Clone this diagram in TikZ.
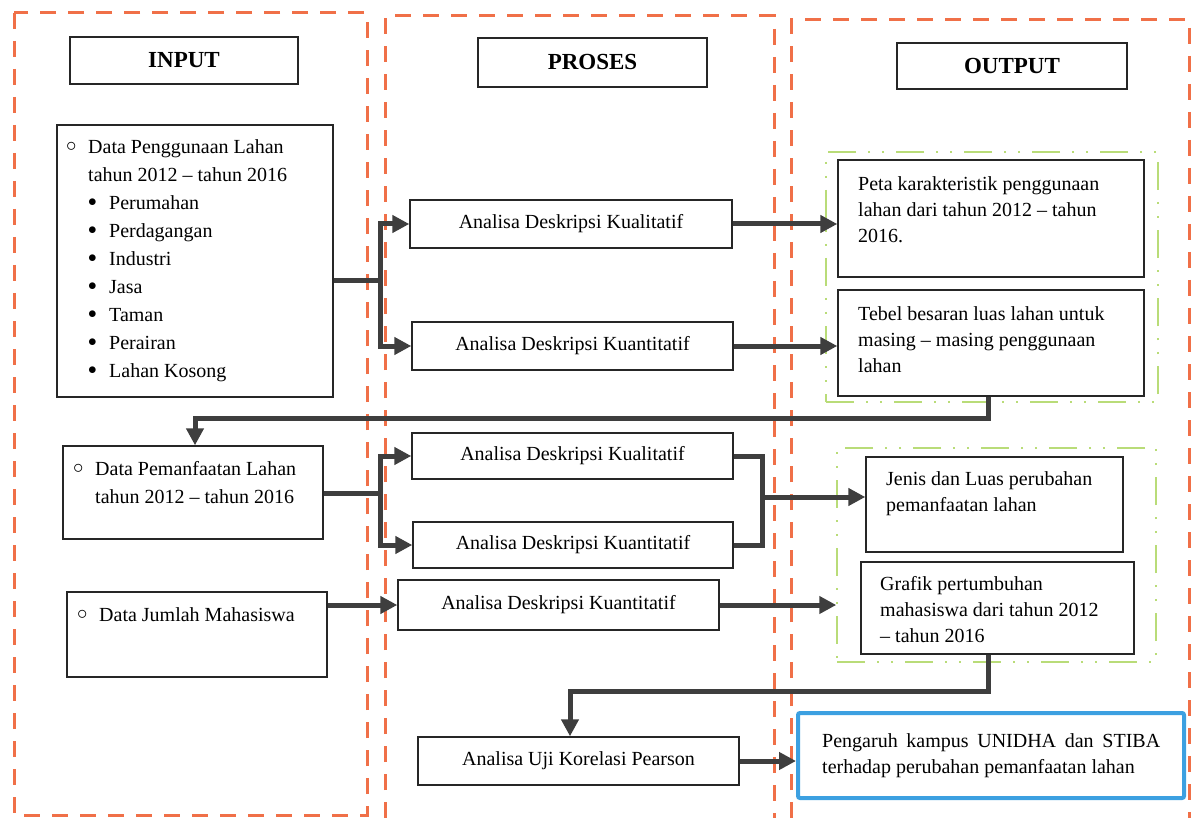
\documentclass[tikz,border=0pt]{standalone}
\usepackage{fontspec}
\setmainfont{Liberation Serif}
\usetikzlibrary{arrows.meta,calc}
\definecolor{frameorange}{RGB}{240,112,72}
\definecolor{framegreen}{RGB}{185,220,120}
\definecolor{outblue}{RGB}{60,160,225}
\definecolor{conngray}{RGB}{62,62,62}
\newcommand\mkbox[7]{\node[#1, minimum width={(#5-#3)*1pt}, minimum height={(#6-#4)*1pt}] (#2) at ({(#3+#5)/2},{(#4+#6)/2}) {#7};}
\newcommand\cbul{\makebox[22pt][l]{\raisebox{1.5pt}{\fontsize{20}{20}\selectfont$\circ$}}}
\newcommand\fbul{\makebox[21pt][l]{\raisebox{2.3pt}{\fontsize{16}{16}\selectfont$\bullet$}}}
\begin{document}
\begin{tikzpicture}[x=1pt,y=-1pt,
  box/.style={draw=black!85, line width=1.4pt, inner sep=0pt, font=\fontsize{20}{28}\selectfont},
  headbox/.style={box, font=\fontsize{23}{28}\selectfont\bfseries},
  bluebox/.style={draw=outblue, line width=4pt, rounded corners=2pt, inner sep=0pt},
  greenframe/.style={draw=framegreen, line width=1.5pt, inner sep=0pt, dash pattern=on 28pt off 12pt on 2pt off 12pt on 2pt off 12pt},
  orangeframe/.style={draw=frameorange, line width=3pt, dash pattern=on 16pt off 12pt},
  txtA/.style={inner sep=0pt, anchor=north west, align=left, font=\fontsize{20}{28}\selectfont},
  txtB/.style={inner sep=0pt, anchor=north west, align=left, font=\fontsize{20}{26}\selectfont},
  conn/.style={draw=conngray, line width=5pt},
  arr/.style={conn, -{Triangle[length=17pt,width=17pt]}}
]
\useasboundingbox (0,0) rectangle (1191,818);
\fill[white] (0,0) rectangle (1191,818);

% orange column frames
\draw[orangeframe] (14,13) rectangle (367,815);
\draw[orangeframe] (385,818) -- (385,16) -- (774,16) -- (774,818);
\draw[orangeframe] (791,818) -- (791,20) -- (1189,20) -- (1189,818);

% green groups
\mkbox{greenframe}{g1}{826}{152}{1158}{402}{}
\mkbox{greenframe}{g2}{837}{448}{1156}{662}{}

% headers
\mkbox{headbox}{hin}{70}{37}{298}{84}{INPUT}
\mkbox{headbox}{hpr}{478}{38}{707}{87}{PROSES}
\mkbox{headbox}{hout}{897}{43}{1127}{89}{OUTPUT}

% input boxes
\mkbox{box}{in1}{57}{125}{333}{397}{}
\mkbox{box}{in2}{63}{446}{323}{539}{}
\mkbox{box}{in3}{67}{592}{327}{677}{}

% process boxes
\mkbox{box}{p1}{410}{200}{732}{248}{Analisa Deskripsi Kualitatif}
\mkbox{box}{p2}{412}{322}{733}{370}{Analisa Deskripsi Kuantitatif}
\mkbox{box}{p3}{412}{433}{733}{479}{Analisa Deskripsi Kualitatif}
\mkbox{box}{p4}{413}{522}{733}{568}{Analisa Deskripsi Kuantitatif}
\mkbox{box}{p5}{398}{580}{719}{630}{Analisa Deskripsi Kuantitatif}
\mkbox{box}{p6}{418}{737}{739}{785}{Analisa Uji Korelasi Pearson}

% output boxes
\mkbox{box}{o1}{838}{160}{1144}{277}{}
\mkbox{box}{o2}{838}{290}{1144}{396}{}
\mkbox{box}{o3}{866}{457}{1123}{552}{}
\mkbox{box}{o4}{861}{562}{1134}{654}{}
\mkbox{bluebox}{o5}{798}{713}{1184}{798}{}

% texts
\node[txtA] (t1) at (66,133.4) {\cbul Data Penggunaan Lahan\strut\\
\hspace*{22pt}tahun 2012 – tahun 2016\\
\hspace*{22pt}\fbul Perumahan\\
\hspace*{22pt}\fbul Perdagangan\\
\hspace*{22pt}\fbul Industri\\
\hspace*{22pt}\fbul Jasa\\
\hspace*{22pt}\fbul Taman\\
\hspace*{22pt}\fbul Perairan\\
\hspace*{22pt}\fbul Lahan Kosong};
\node[txtA] (t2) at (73,455.4) {\cbul Data Pemanfaatan Lahan\strut\\
\hspace*{22pt}tahun 2012 – tahun 2016};
\node[txtA] (t3) at (77,601.4) {\cbul Data Jumlah Mahasiswa\strut};

\node[txtB] (t4) at (858,171.8) {Peta karakteristik penggunaan\strut\\ lahan dari tahun 2012 – tahun\\ 2016.};
\node[txtB] (t5) at (858,301.8) {Tebel besaran luas lahan untuk\strut\\ masing – masing penggunaan\\ lahan};
\node[txtB] (t6) at (886,466.8) {Jenis dan Luas perubahan\strut\\ pemanfaatan lahan};
\node[txtB] (t7) at (880,571.8) {Grafik pertumbuhan\strut\\ mahasiswa dari tahun 2012\\ – tahun 2016};
\node[txtB] (t8) at (822,728.8) {\makebox[338pt][s]{Pengaruh kampus UNIDHA dan STIBA}\strut\\ terhadap perubahan pemanfaatan lahan};

% connectors
\coordinate (j1) at (380,281);
\draw[conn] (in1.east |- j1) -- (j1);
\draw[arr] (j1) |- (p1.west);
\draw[arr] (j1) |- (p2.west);
\draw[arr] (p1.east) -- (p1.east -| o1.west);
\draw[arr] (p2.east) -- (p2.east -| o2.west);

\coordinate (c1) at (988,418);
\coordinate (c1b) at (195,418);
\draw[arr] (o2.south -| c1) -- (c1) -- (c1b) -- (c1b |- in2.north);

\coordinate (j2) at (380,493);
\draw[conn] (in2.east |- j2) -- (j2);
\draw[arr] (j2) |- (p3.west);
\draw[arr] (j2) |- (p4.west);

\coordinate (k) at (762,497);
\draw[conn] (p3.east) -| (k) |- (p4.east);
\draw[arr] (k) -- (k -| o3.west);

\draw[arr] (in3.east |- p5.west) -- (p5.west);
\draw[arr] (p5.east) -- (p5.east -| g2.west);

\coordinate (c2) at (988,691);
\coordinate (c2b) at (570,691);
\draw[arr] (o4.south -| c2) -- (c2) -- (c2b) -- (c2b |- p6.north);
\draw[arr] (p6.east) -- (p6.east -| o5.west);
\end{tikzpicture}
\end{document}
